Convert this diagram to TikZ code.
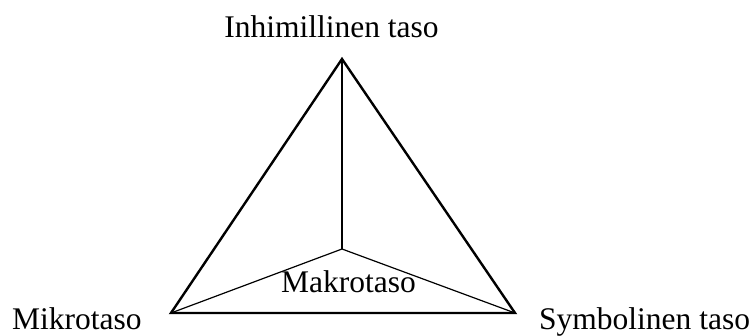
\documentclass[tikz,border=0pt]{standalone}
\usepackage{fontspec}
\setmainfont{Liberation Serif}
\begin{document}
\begin{tikzpicture}[x=1pt,y=-1pt,
  lbl/.style={inner sep=0pt,font=\fontsize{31.5}{37}\selectfont},
  outer/.style={line width=2.4pt,line join=miter},
  inner/.style={line width=1.2pt}]
\useasboundingbox (0,0) rectangle (753,336);
\coordinate (A) at (342,59);
\coordinate (L) at (171,313);
\coordinate (R) at (515,313);
\coordinate (C) at (342,249);
\draw[inner] (C) -- (A);
\draw[inner] (C) -- (L);
\draw[inner] (C) -- (R);
\draw[outer] (A) -- (L) -- (R) -- cycle;
\node[lbl,anchor=base] (top) at (331.5,37.7) {Inhimillinen taso};
\node[lbl,anchor=base west] (mik) at (12,330) {Mikrotaso};
\node[lbl,anchor=base west] (sym) at (539,330) {Symbolinen taso};
\node[lbl,anchor=base west] (mak) at (281,292.7) {Makrotaso};
\end{tikzpicture}
\end{document}
